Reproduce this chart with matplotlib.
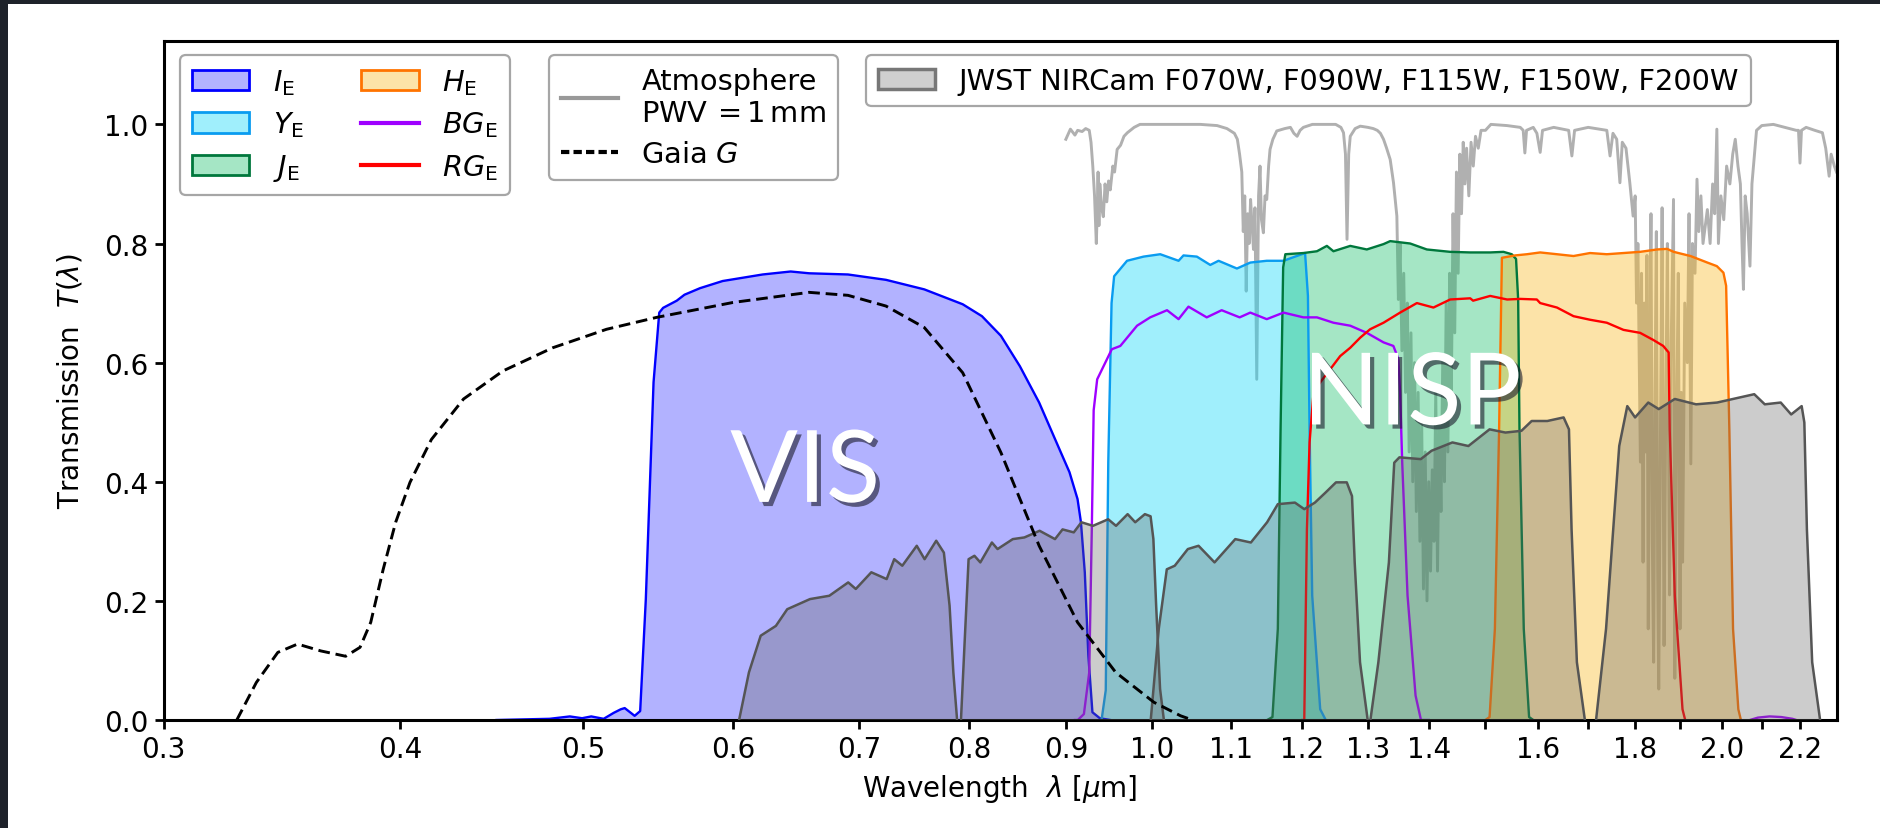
import matplotlib
matplotlib.use("Agg")
import matplotlib.pyplot as plt
import matplotlib.patheffects as pe
from matplotlib.patches import Patch, Rectangle
from matplotlib.lines import Line2D
from matplotlib.colors import to_rgba

plt.rcParams['font.family'] = ['DejaVu Sans']
plt.rcParams['mathtext.fontset'] = 'dejavusans'

# ---------------- data (wavelength in micron, transmission) ----------------
ie_wave = [0.45, 0.48, 0.492, 0.4994, 0.505, 0.5127, 0.519, 0.5235, 0.526, 0.5324, 0.536, 0.5397,
           0.5448, 0.5486, 0.5512, 0.5604, 0.5657, 0.5765, 0.5926, 0.6222, 0.6438, 0.6584, 0.6903,
           0.723, 0.7575, 0.7938, 0.8126, 0.8316, 0.851, 0.8712, 0.8915, 0.904, 0.9129, 0.9167,
           0.921, 0.925, 0.9296, 0.938, 0.95]
ie_T = [0.0, 0.002, 0.006, 0.003, 0.006, 0.002, 0.012, 0.018, 0.02, 0.007, 0.015, 0.203,
        0.567, 0.684, 0.692, 0.704, 0.714, 0.725, 0.737, 0.748, 0.753, 0.750, 0.748,
        0.739, 0.723, 0.698, 0.678, 0.645, 0.594, 0.533, 0.460, 0.416, 0.371, 0.332,
        0.248, 0.108, 0.013, 0.003, 0.0]

ye_wave = [0.940, 0.9448, 0.9477, 0.9515, 0.9545, 0.9696, 0.9893, 1.0096, 1.0324, 1.0386, 1.0556,
           1.073, 1.0839, 1.1084, 1.1266, 1.1494, 1.1731, 1.2043, 1.2085, 1.2109, 1.2148,
           1.2267, 1.235]
ye_T = [0.0, 0.05, 0.432, 0.70, 0.745, 0.771, 0.778, 0.782, 0.771, 0.780, 0.778,
        0.764, 0.771, 0.758, 0.768, 0.771, 0.771, 0.784, 0.712, 0.488, 0.209,
        0.018, 0.0]

je_wave = [1.150, 1.1574, 1.165, 1.1689, 1.1726, 1.1757, 1.2018, 1.2218, 1.2367, 1.2466, 1.2724,
           1.2983, 1.325, 1.3358, 1.3687, 1.3967, 1.437, 1.4725, 1.5087, 1.5333, 1.5489, 1.557,
           1.561, 1.5635, 1.5717, 1.5819, 1.590]
je_T = [0.0, 0.005, 0.153, 0.488, 0.760, 0.782, 0.784, 0.787, 0.796, 0.787, 0.796,
        0.790, 0.799, 0.804, 0.800, 0.790, 0.786, 0.785, 0.785, 0.786, 0.782, 0.774,
        0.706, 0.49, 0.153, 0.005, 0.0]

he_wave = [1.500, 1.5076, 1.5174, 1.5252, 1.5304, 1.5552, 1.5777, 1.6034, 1.6365, 1.6698, 1.7038,
           1.7389, 1.7745, 1.8109, 1.8485, 1.8713, 1.8864, 1.9254, 1.9654, 1.9882, 2.0042,
           2.0108, 2.0187, 2.0278, 2.0409, 2.0473]
he_T = [0.0, 0.005, 0.153, 0.488, 0.776, 0.780, 0.782, 0.785, 0.782, 0.779, 0.784,
        0.782, 0.784, 0.786, 0.790, 0.791, 0.786, 0.779, 0.768, 0.762, 0.751,
        0.729, 0.488, 0.153, 0.018, 0.0]

bg_wave = [0.910, 0.9132, 0.920, 0.926, 0.929, 0.931, 0.935, 0.9518, 0.9617, 0.9815, 0.9973,
           1.018, 1.0324, 1.0449, 1.0684, 1.088, 1.1121, 1.1266, 1.1494, 1.1731, 1.2018,
           1.2218, 1.2466, 1.2724, 1.2983, 1.325, 1.341, 1.3492, 1.352, 1.3555, 1.3643,
           1.3777, 1.3868, 1.40]
bg_T = [0.0, 0.0, 0.01, 0.08, 0.33, 0.52, 0.572, 0.6225, 0.628, 0.662, 0.676,
        0.688, 0.673, 0.694, 0.676, 0.688, 0.676, 0.684, 0.673, 0.684, 0.676,
        0.676, 0.667, 0.662, 0.650, 0.634, 0.628, 0.606, 0.55, 0.432, 0.209,
        0.041, 0.0, 0.0]
bg_tail_wave = [2.07, 2.09, 2.12, 2.15, 2.18, 2.19]
bg_tail_T = [0.0, 0.004, 0.006, 0.005, 0.002, 0.0]

rg_wave = [1.200, 1.2031, 1.207, 1.2109, 1.2168, 1.2268, 1.2418, 1.2569, 1.2724, 1.288, 1.3035,
           1.325, 1.352, 1.3799, 1.408, 1.437, 1.4725, 1.4777, 1.5087, 1.5402, 1.5651, 1.5969,
           1.6034, 1.6365, 1.6698, 1.7038, 1.7389, 1.7745, 1.8109, 1.8403, 1.8626, 1.8749,
           1.8773, 1.889, 1.9068, 1.913]
rg_T = [0.0, 0.0, 0.32, 0.466, 0.55, 0.567, 0.589, 0.611, 0.625, 0.642, 0.656,
        0.667, 0.684, 0.700, 0.6925, 0.706, 0.708, 0.704, 0.712, 0.706, 0.707, 0.706,
        0.700, 0.6925, 0.678, 0.672, 0.667, 0.655, 0.650, 0.638, 0.628, 0.617,
        0.488, 0.209, 0.018, 0.0]

gaia_wave = [0.328, 0.3359, 0.3448, 0.3532, 0.3633, 0.3745, 0.3811, 0.3861, 0.392, 0.398, 0.405,
             0.4157, 0.4323, 0.4535, 0.4819, 0.5145, 0.5469, 0.6001, 0.6584, 0.6903, 0.723,
             0.7575, 0.7938, 0.8316, 0.8712, 0.9129, 0.9563, 1.0019, 1.035, 1.05]
gaia_T = [0.0, 0.063, 0.1135, 0.1275, 0.116, 0.107, 0.122, 0.164, 0.253, 0.332, 0.399,
          0.471, 0.539, 0.586, 0.625, 0.656, 0.676, 0.701, 0.718, 0.713, 0.695,
          0.659, 0.583, 0.449, 0.2925, 0.164, 0.080, 0.0297, 0.007, 0.0]

f070w_wave = [0.6046, 0.6119, 0.6207, 0.6323, 0.6411, 0.6591, 0.6748, 0.6905, 0.6969, 0.7102,
              0.7236, 0.7303, 0.7375, 0.7506, 0.7578, 0.7686, 0.7758, 0.7812, 0.7848, 0.7884]
f070w_T = [0.0, 0.080, 0.1415, 0.158, 0.186, 0.203, 0.2086, 0.231, 0.22, 0.248,
           0.2366, 0.270, 0.259, 0.2925, 0.270, 0.301, 0.281, 0.192, 0.08, 0.0]

f090w_wave = [0.7921, 0.7958, 0.7995, 0.8052, 0.811, 0.8225, 0.8282, 0.8437, 0.8557, 0.8717,
              0.8882, 0.8964, 0.9087, 0.9172, 0.9302, 0.9476, 0.9567, 0.9703, 0.9793, 0.9909,
              0.9978, 1.0012, 1.0046, 1.0094, 1.0141]
f090w_T = [0.0, 0.136, 0.270, 0.2757, 0.2646, 0.298, 0.287, 0.3037, 0.3065, 0.3177,
           0.3037, 0.320, 0.315, 0.332, 0.326, 0.337, 0.326, 0.3456, 0.332, 0.3456,
           0.342, 0.304, 0.192, 0.052, 0.0]

f115w_wave = [0.998, 1.0078, 1.0177, 1.0276, 1.0441, 1.0578, 1.0786, 1.1062, 1.1274, 1.1499,
              1.165, 1.1895, 1.2031, 1.2188, 1.2348, 1.2505, 1.267, 1.2751, 1.2793, 1.2876, 1.2997]
f115w_T = [0.0, 0.153, 0.253, 0.259, 0.287, 0.2925, 0.2646, 0.3037, 0.298, 0.332,
           0.3624, 0.365, 0.354, 0.365, 0.382, 0.399, 0.399, 0.376, 0.2646, 0.097, 0.0]

f150w_wave = [1.304, 1.3167, 1.3337, 1.3424, 1.3509, 1.3865, 1.4047, 1.4409, 1.4692, 1.5076,
              1.537, 1.5672, 1.5869, 1.6174, 1.6498, 1.6606, 1.6659, 1.6767, 1.6931]
f150w_T = [0.0, 0.097, 0.2646, 0.432, 0.441, 0.438, 0.452, 0.466, 0.460, 0.488,
           0.4826, 0.4855, 0.502, 0.502, 0.508, 0.488, 0.320, 0.097, 0.0]

f200w_wave = [1.7163, 1.7373, 1.7654, 1.7828, 1.7998, 1.8289, 1.8524, 1.889, 1.9385, 1.9889,
              2.0409, 2.0808, 2.1077, 2.149, 2.1765, 2.2045, 2.2117, 2.2186, 2.2329, 2.2545]
f200w_T = [0.0, 0.153, 0.460, 0.527, 0.508, 0.533, 0.522, 0.539, 0.530, 0.533,
           0.541, 0.547, 0.530, 0.533, 0.513, 0.527, 0.4995, 0.320, 0.097, 0.0]

atm_wave = [0.900, 0.903, 0.905, 0.910, 0.913, 0.918, 0.922, 0.926, 0.928, 0.930, 0.932, 0.934,
            0.935, 0.936, 0.937, 0.938, 0.940, 0.942, 0.944, 0.946, 0.948, 0.950, 0.953, 0.955,
            0.958, 0.962, 0.966, 0.970, 0.978, 0.985, 1.00, 1.03, 1.06, 1.082, 1.095, 1.105,
            1.109, 1.112, 1.115, 1.117, 1.119, 1.121, 1.123, 1.125, 1.127, 1.129, 1.131, 1.133,
            1.1355, 1.138, 1.140, 1.142, 1.1447, 1.147, 1.1494, 1.152, 1.154, 1.158, 1.1635,
            1.175, 1.183, 1.188, 1.1927, 1.197, 1.2018, 1.215, 1.25, 1.258, 1.262, 1.265,
            1.2674, 1.270, 1.2724, 1.280, 1.288, 1.300, 1.3085, 1.315, 1.320, 1.325, 1.330,
            1.3358, 1.3412, 1.3467, 1.3492, 1.352, 1.355, 1.358, 1.361, 1.364, 1.367, 1.370,
            1.373, 1.376, 1.379, 1.382, 1.385, 1.388, 1.391, 1.394, 1.397, 1.400, 1.403, 1.406,
            1.409, 1.412, 1.415, 1.418, 1.421, 1.424, 1.427, 1.430, 1.433, 1.436, 1.439, 1.442,
            1.445, 1.448, 1.451, 1.454, 1.457, 1.460, 1.463, 1.466, 1.470, 1.474, 1.478, 1.482,
            1.487, 1.492, 1.500, 1.510, 1.540, 1.565, 1.5706, 1.5738, 1.577, 1.590, 1.597,
            1.6034, 1.608, 1.630, 1.660, 1.6665, 1.672, 1.700, 1.7389, 1.7458, 1.752, 1.760,
            1.7669, 1.772, 1.780, 1.7883, 1.7955, 1.800, 1.803, 1.806, 1.8115, 1.814, 1.8174,
            1.820, 1.823, 1.826, 1.8289, 1.832, 1.835, 1.838, 1.8409, 1.844, 1.847, 1.850,
            1.8524, 1.856, 1.860, 1.8644, 1.868, 1.872, 1.877, 1.880, 1.886, 1.889, 1.893,
            1.897, 1.901, 1.904, 1.907, 1.912, 1.918, 1.922, 1.9262, 1.930, 1.936, 1.9407,
            1.945, 1.950, 1.955, 1.9654, 1.972, 1.978, 1.983, 1.9882, 1.992, 1.998, 2.005,
            2.012, 2.020, 2.027, 2.0333, 2.040, 2.046, 2.050, 2.0536, 2.058, 2.063, 2.070,
            2.075, 2.0866, 2.100, 2.1298, 2.160, 2.190, 2.196, 2.200, 2.204, 2.2165, 2.240,
            2.2609, 2.270, 2.2795, 2.285, 2.294, 2.300]
atm_T = [0.975, 0.985, 0.992, 0.982, 0.990, 0.988, 0.993, 0.990, 0.970, 0.930, 0.880, 0.800,
         0.850, 0.920, 0.830, 0.900, 0.860, 0.845, 0.900, 0.870, 0.905, 0.890, 0.930, 0.920,
         0.958, 0.965, 0.980, 0.986, 0.995, 1.000, 1.000, 1.000, 1.000, 0.998, 0.993, 0.985,
         0.975, 0.950, 0.920, 0.820, 0.880, 0.720, 0.850, 0.800, 0.874, 0.830, 0.790, 0.860,
         0.572, 0.880, 0.930, 0.840, 0.818, 0.880, 0.874, 0.930, 0.958, 0.975, 0.989,
         0.993, 0.995, 0.985, 0.980, 0.990, 0.995, 1.000, 1.000, 0.995, 0.986, 0.950,
         0.807, 0.950, 0.980, 0.993, 0.997, 0.995, 0.993, 0.990, 0.985, 0.975, 0.960,
         0.941, 0.902, 0.846, 0.706, 0.800, 0.620, 0.750, 0.550, 0.700, 0.450, 0.650,
         0.400, 0.600, 0.350, 0.550, 0.300, 0.500, 0.220, 0.450, 0.200, 0.400, 0.250, 0.420,
         0.300, 0.550, 0.250, 0.500, 0.350, 0.600, 0.400, 0.700, 0.450, 0.750, 0.550, 0.850,
         0.650, 0.920, 0.750, 0.950, 0.850, 0.970, 0.900, 0.960, 0.880, 0.970, 0.930, 0.980,
         0.960, 0.990, 0.990, 1.000, 0.998, 0.995, 0.990, 0.952, 0.990, 0.995, 0.985,
         0.953, 0.990, 0.995, 0.990, 0.947, 0.990, 0.995, 0.990, 0.947, 0.985, 0.975,
         0.902, 0.970, 0.960, 0.902, 0.846, 0.880, 0.700, 0.800, 0.433, 0.750, 0.265,
         0.700, 0.450, 0.780, 0.153, 0.600, 0.850, 0.300, 0.097, 0.550, 0.820, 0.250,
         0.052, 0.450, 0.860, 0.125, 0.500, 0.800, 0.210, 0.600, 0.874, 0.070, 0.500,
         0.750, 0.153, 0.550, 0.265, 0.700, 0.600, 0.850, 0.430, 0.800, 0.750, 0.908,
         0.820, 0.880, 0.800, 0.857, 0.800, 0.900, 0.850, 0.992, 0.800, 0.880, 0.840,
         0.930, 0.900, 0.950, 0.975, 0.930, 0.900, 0.800, 0.723, 0.880, 0.850, 0.762,
         0.900, 0.990, 0.998, 1.000, 0.995, 0.990, 0.990, 0.935, 0.990, 0.995, 0.990,
         0.986, 0.960, 0.913, 0.950, 0.930, 0.920]

xtick_vals = [0.3, 0.4, 0.5, 0.6, 0.7, 0.8, 0.9, 1.0, 1.1, 1.2, 1.3, 1.4, 1.5, 1.6, 1.7, 1.8,
              1.9, 2.0, 2.1, 2.2]
xtick_labels = ['0.3', '0.4', '0.5', '0.6', '0.7', '0.8', '0.9', '1.0', '1.1', '1.2', '1.3',
                '1.4', '', '1.6', '', '1.8', '', '2.0', '', '2.2']
ytick_vals = [0.0, 0.2, 0.4, 0.6, 0.8, 1.0]

# ---------------- styles ----------------
FS = 20
LFS = 20.8
ie_fc, ie_ec = to_rgba('#0000ff', 0.30), '#0000ff'
ye_fc, ye_ec = to_rgba('#13d9f9', 0.40), '#0a9cf0'
je_fc, je_ec = to_rgba('#1fc16e', 0.40), '#00773c'
he_fc, he_ec = to_rgba('#f9b926', 0.40), '#ff7300'
bg_c = '#9f00ff'
rg_c = '#ff0000'
jw_fc, jw_ec = to_rgba('#666666', 0.33), '#555555'
atm_c = '#b0b0b0'

fig = plt.figure(figsize=(18.8, 8.29), dpi=100, facecolor='white')
ax = fig.add_axes([163.5 / 1880, 1 - 721 / 829, (1836.5 - 163.5) / 1880, (721 - 42) / 829])

# dark slide border (top and left)
fig.patches.append(Rectangle((0, 0), 8 / 1880, 1, transform=fig.transFigure,
                             facecolor='#1e222a', edgecolor='none', zorder=0))
fig.patches.append(Rectangle((0, 1 - 4.5 / 829), 1, 4.5 / 829, transform=fig.transFigure,
                             facecolor='#1e222a', edgecolor='none', zorder=0))

ax.plot(atm_wave, atm_T, color=atm_c, lw=2.1, zorder=1)

for w, t, fc, ec in [(ie_wave, ie_T, ie_fc, ie_ec), (ye_wave, ye_T, ye_fc, ye_ec),
                     (je_wave, je_T, je_fc, je_ec), (he_wave, he_T, he_fc, he_ec)]:
    ax.fill_between(w, t, 0, facecolor=fc, edgecolor='none', zorder=2)
    ax.plot(w, t, color=ec, lw=1.7, zorder=2.1)

ax.plot(bg_wave, bg_T, color=bg_c, lw=1.7, zorder=2.2)
ax.plot(bg_tail_wave, bg_tail_T, color=bg_c, lw=1.7, zorder=2.2)
ax.plot(rg_wave, rg_T, color=rg_c, lw=1.7, zorder=2.2)

for w, t in [(f070w_wave, f070w_T), (f090w_wave, f090w_T), (f115w_wave, f115w_T),
             (f150w_wave, f150w_T), (f200w_wave, f200w_T)]:
    ax.fill_between(w, t, 0, facecolor=jw_fc, edgecolor='none', zorder=3)
    ax.plot(w, t, color=jw_ec, lw=1.8, zorder=3.1)

ax.plot(gaia_wave, gaia_T, color='black', lw=2.1, ls='--', dashes=(4, 2), zorder=4)

shadow = [pe.SimplePatchShadow(offset=(3, -3), shadow_rgbFace='#1a1a2a', alpha=0.6),
          pe.Normal()]
for txt, xx, yy in [('VIS', 0.6553, 0.414), ('NISP', 1.372, 0.544)]:
    ax.text(xx, yy, txt, fontsize=72, color='white', family=['Lato', 'DejaVu Sans'],
            fontweight='normal', ha='center', va='center', zorder=6, path_effects=shadow)

ax.set_xscale('log')
ax.set_xlim(0.3, 2.3)
ax.set_ylim(0.0, 1.14)
ax.set_xticks(xtick_vals)
ax.set_xticklabels(xtick_labels)
ax.xaxis.set_minor_locator(matplotlib.ticker.NullLocator())
ax.set_yticks(ytick_vals)
ax.set_yticklabels(['%.1f' % v for v in ytick_vals])
ax.tick_params(axis='both', which='major', length=6.5, width=2.0, labelsize=FS, pad=4.5)
for s in ax.spines.values():
    s.set_linewidth(2.2)
ax.set_xlabel(r'Wavelength  $\lambda$ [$\mu$m]', fontsize=FS, labelpad=6)
ax.set_ylabel(r'Transmission  $T(\lambda)$', fontsize=FS, labelpad=14)

legkw = dict(fontsize=LFS, frameon=True, fancybox=True, framealpha=1.0, edgecolor='0.65',
             borderaxespad=0.0, loc='upper left')
h1 = [Patch(facecolor=ie_fc, edgecolor=ie_ec, lw=2, label=r'$I_{\rm E}$'),
      Patch(facecolor=ye_fc, edgecolor=ye_ec, lw=2, label=r'$Y_{\rm E}$'),
      Patch(facecolor=je_fc, edgecolor=je_ec, lw=2, label=r'$J_{\rm E}$'),
      Patch(facecolor=he_fc, edgecolor=he_ec, lw=2, label=r'$H_{\rm E}$'),
      Line2D([], [], color=bg_c, lw=3, label=r'$BG_{\rm E}$'),
      Line2D([], [], color=rg_c, lw=3, label=r'$RG_{\rm E}$')]
leg1 = ax.legend(handles=h1, ncol=2, bbox_to_anchor=(0.0099, 0.979), columnspacing=2.0,
                 labelspacing=0.45, **legkw)
ax.add_artist(leg1)
h2 = [Line2D([], [], color='0.6', lw=3, label='Atmosphere\nPWV$\\,=1\\,$mm'),
      Line2D([], [], color='black', lw=3, ls='--', dashes=(2, 1), label=r'Gaia $G$')]
leg2 = ax.legend(handles=h2, bbox_to_anchor=(0.2304, 0.979), labelspacing=0.45, **legkw)
ax.add_artist(leg2)
h3 = [Patch(facecolor=to_rgba('#bbbbbb', 0.7), edgecolor='#777777', lw=2.5,
            label='JWST NIRCam F070W, F090W, F115W, F150W, F200W')]
leg3 = ax.legend(handles=h3, bbox_to_anchor=(0.42, 0.979), **legkw)
for lg in (leg1, leg2, leg3):
    lg.get_frame().set_linewidth(1.6)
    lg.set_zorder(10)

fig.savefig('out.png', dpi=100, facecolor='white')
